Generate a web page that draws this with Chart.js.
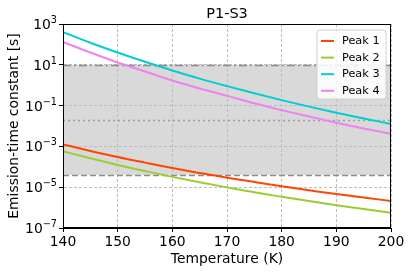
<!DOCTYPE html>
<html>
<head>
<meta charset="utf-8">
<script src="https://cdn.jsdelivr.net/npm/chart.js@4/dist/chart.umd.min.js"></script>
<style>
  html, body { margin: 0; padding: 0; background: #fff; }
  canvas { display: block; }
</style>
</head>
<body>
<canvas id="grafico" width="411" height="272"></canvas>
<script>
"use strict";

/* ===== DADOS ===== */
const temperaturas = [140, 145, 150, 155, 160, 165, 170, 175, 180, 185, 190, 195, 200];
const peak1 = [1.26e-3, 6.0e-4, 3.0e-4, 1.6e-4, 8.7e-5, 5.0e-5, 2.9e-5, 1.8e-5, 1.1e-5, 7.1e-6, 4.6e-6, 3.1e-6, 2.1e-6];
const peak2 = [5.8e-4, 2.6e-4, 1.23e-4, 6.2e-5, 3.2e-5, 1.74e-5, 9.8e-6, 5.6e-6, 3.4e-6, 2.1e-6, 1.32e-6, 8.5e-7, 5.6e-7];
const peak3 = [400, 121, 40, 14, 5.3, 2.1, 0.9, 0.4, 0.185, 0.089, 0.045, 0.0234, 0.0126];
const peak4 = [132, 40, 13, 4.7, 1.7, 0.69, 0.30, 0.13, 0.060, 0.029, 0.0145, 0.0076, 0.0041];
const nomes = ["Peak 1", "Peak 2", "Peak 3", "Peak 4"];
const cores = ["#ff4500", "#9acd32", "#00ced1", "#ee82ee"];
const yTicks = [1e-7, 1e-5, 1e-3, 1e-1, 1e1, 1e3];
const yExpoentes = ["−7", "−5", "−3", "−1", "1", "3"];
const faixaTopo = 10;      // limite superior da janela
const faixaBase = 4e-5;    // limite inferior da janela
const linhaPontilhada = 0.02;

const FONTE = "'DejaVu Sans', sans-serif";
const TAM = 13.9;

const toXY = serie => serie.map((v, i) => ({ x: temperaturas[i], y: v }));

/* ===== PLUGINS ===== */
const janela = {
    id: "janela",
    beforeDraw(chart) {
        const { ctx, chartArea: a, scales: { y } } = chart;
        const y1 = y.getPixelForValue(faixaTopo);
        const y2 = y.getPixelForValue(faixaBase);
        ctx.save();
        ctx.fillStyle = "#d9d9d9";
        ctx.fillRect(a.left, y1, a.right - a.left, y2 - y1);
        ctx.restore();
    },
    beforeDatasetsDraw(chart) {
        const { ctx, chartArea: a, scales: { y } } = chart;
        const linha = (valor, dash) => {
            const py = Math.round(y.getPixelForValue(valor)) + 0.5;
            ctx.setLineDash(dash);
            ctx.beginPath();
            ctx.moveTo(a.left, py);
            ctx.lineTo(a.right, py);
            ctx.stroke();
        };
        ctx.save();
        ctx.strokeStyle = "#8c8c8c";
        ctx.lineWidth = 1.5;
        linha(faixaTopo, [8, 3, 2, 3]);
        linha(faixaBase, [6, 3]);
        ctx.strokeStyle = "#a0a0a0";
        linha(linhaPontilhada, [2, 3]);
        ctx.restore();
    },
    afterDraw(chart) {
        const { ctx, chartArea: a, scales: { y } } = chart;
        ctx.save();
        // moldura
        ctx.strokeStyle = "#000";
        ctx.lineWidth = 1;
        ctx.strokeRect(a.left + 0.5, a.top + 0.5, a.right - a.left - 1, a.bottom - a.top - 1);

        // rotulos do eixo y (10 com expoente)
        ctx.fillStyle = "#000";
        ctx.textBaseline = "alphabetic";
        ctx.textAlign = "left";
        yTicks.forEach((v, i) => {
            const py = y.getPixelForValue(v);
            ctx.font = "9.7px " + FONTE;
            const we = ctx.measureText(yExpoentes[i]).width;
            ctx.font = TAM + "px " + FONTE;
            const wb = ctx.measureText("10").width;
            const xr = a.left - 6;
            ctx.fillText("10", xr - we - wb, py + 5);
            ctx.font = "9.7px " + FONTE;
            ctx.fillText(yExpoentes[i], xr - we, py - 1);
        });

        // titulo
        ctx.font = "14.5px " + FONTE;
        ctx.textAlign = "center";
        ctx.textBaseline = "middle";
        ctx.fillText("P1-S3", (a.left + a.right) / 2, 14);

        // legenda
        const lx = a.right - 74, ly = a.top + 6, lw = 69, lh = 69;
        ctx.fillStyle = "rgba(255,255,255,0.85)";
        ctx.strokeStyle = "#d0d0d0";
        ctx.beginPath();
        ctx.roundRect(lx, ly, lw, lh, 3);
        ctx.fill();
        ctx.stroke();
        ctx.font = "11.3px " + FONTE;
        ctx.textAlign = "left";
        chart.data.datasets.forEach((ds, i) => {
            const cy = ly + 11 + i * 16.6;
            ctx.strokeStyle = ds.borderColor;
            ctx.lineWidth = 2;
            ctx.beginPath();
            ctx.moveTo(lx + 4, cy);
            ctx.lineTo(lx + 17, cy);
            ctx.stroke();
            ctx.fillStyle = "#000";
            ctx.fillText(ds.label, lx + 25, cy);
        });
        ctx.restore();
    }
};

/* ===== GRAFICO ===== */
Chart.defaults.font.family = FONTE;
Chart.defaults.color = "#000";

new Chart(document.getElementById("grafico"), {
    type: "line",
    data: {
        datasets: [peak1, peak2, peak3, peak4].map((s, i) => ({
            label: nomes[i],
            data: toXY(s),
            borderColor: cores[i],
            backgroundColor: cores[i],
            borderWidth: 2,
            pointRadius: 0,
            tension: 0.4,
            cubicInterpolationMode: "monotone"
        }))
    },
    options: {
        responsive: false,
        animation: false,
        devicePixelRatio: 1,
        layout: { padding: { top: 24, right: 20, left: 0, bottom: 0 } },
        plugins: { legend: { display: false }, tooltip: { enabled: false }, title: { display: false } },
        scales: {
            x: {
                type: "linear",
                min: 140,
                max: 200,
                ticks: { stepSize: 10, font: { size: TAM }, padding: 2, maxRotation: 0 },
                grid: { color: "#bdbdbd", tickLength: 4, tickColor: "#000", tickBorderDash: [0, 0] },
                border: { display: true, color: "#000", dash: [3, 2] },
                title: { display: true, text: "Temperature (K)", font: { size: TAM }, padding: { top: 0, bottom: 4 } },
                afterFit(s) { s.height = 44; }
            },
            y: {
                type: "logarithmic",
                min: 1e-7,
                max: 1e3,
                afterBuildTicks(s) { s.ticks = yTicks.map(v => ({ value: v })); },
                ticks: { display: false },
                grid: { color: "#bdbdbd", tickLength: 4, tickColor: "#000", tickBorderDash: [0, 0] },
                border: { display: true, color: "#000", dash: [3, 2] },
                title: { display: true, text: "Emission-time constant [s]", font: { size: TAM }, padding: { top: 6, bottom: 0 } },
                afterFit(s) { s.width = 63; }
            }
        }
    },
    plugins: [janela]
});
</script>
</body>
</html>
